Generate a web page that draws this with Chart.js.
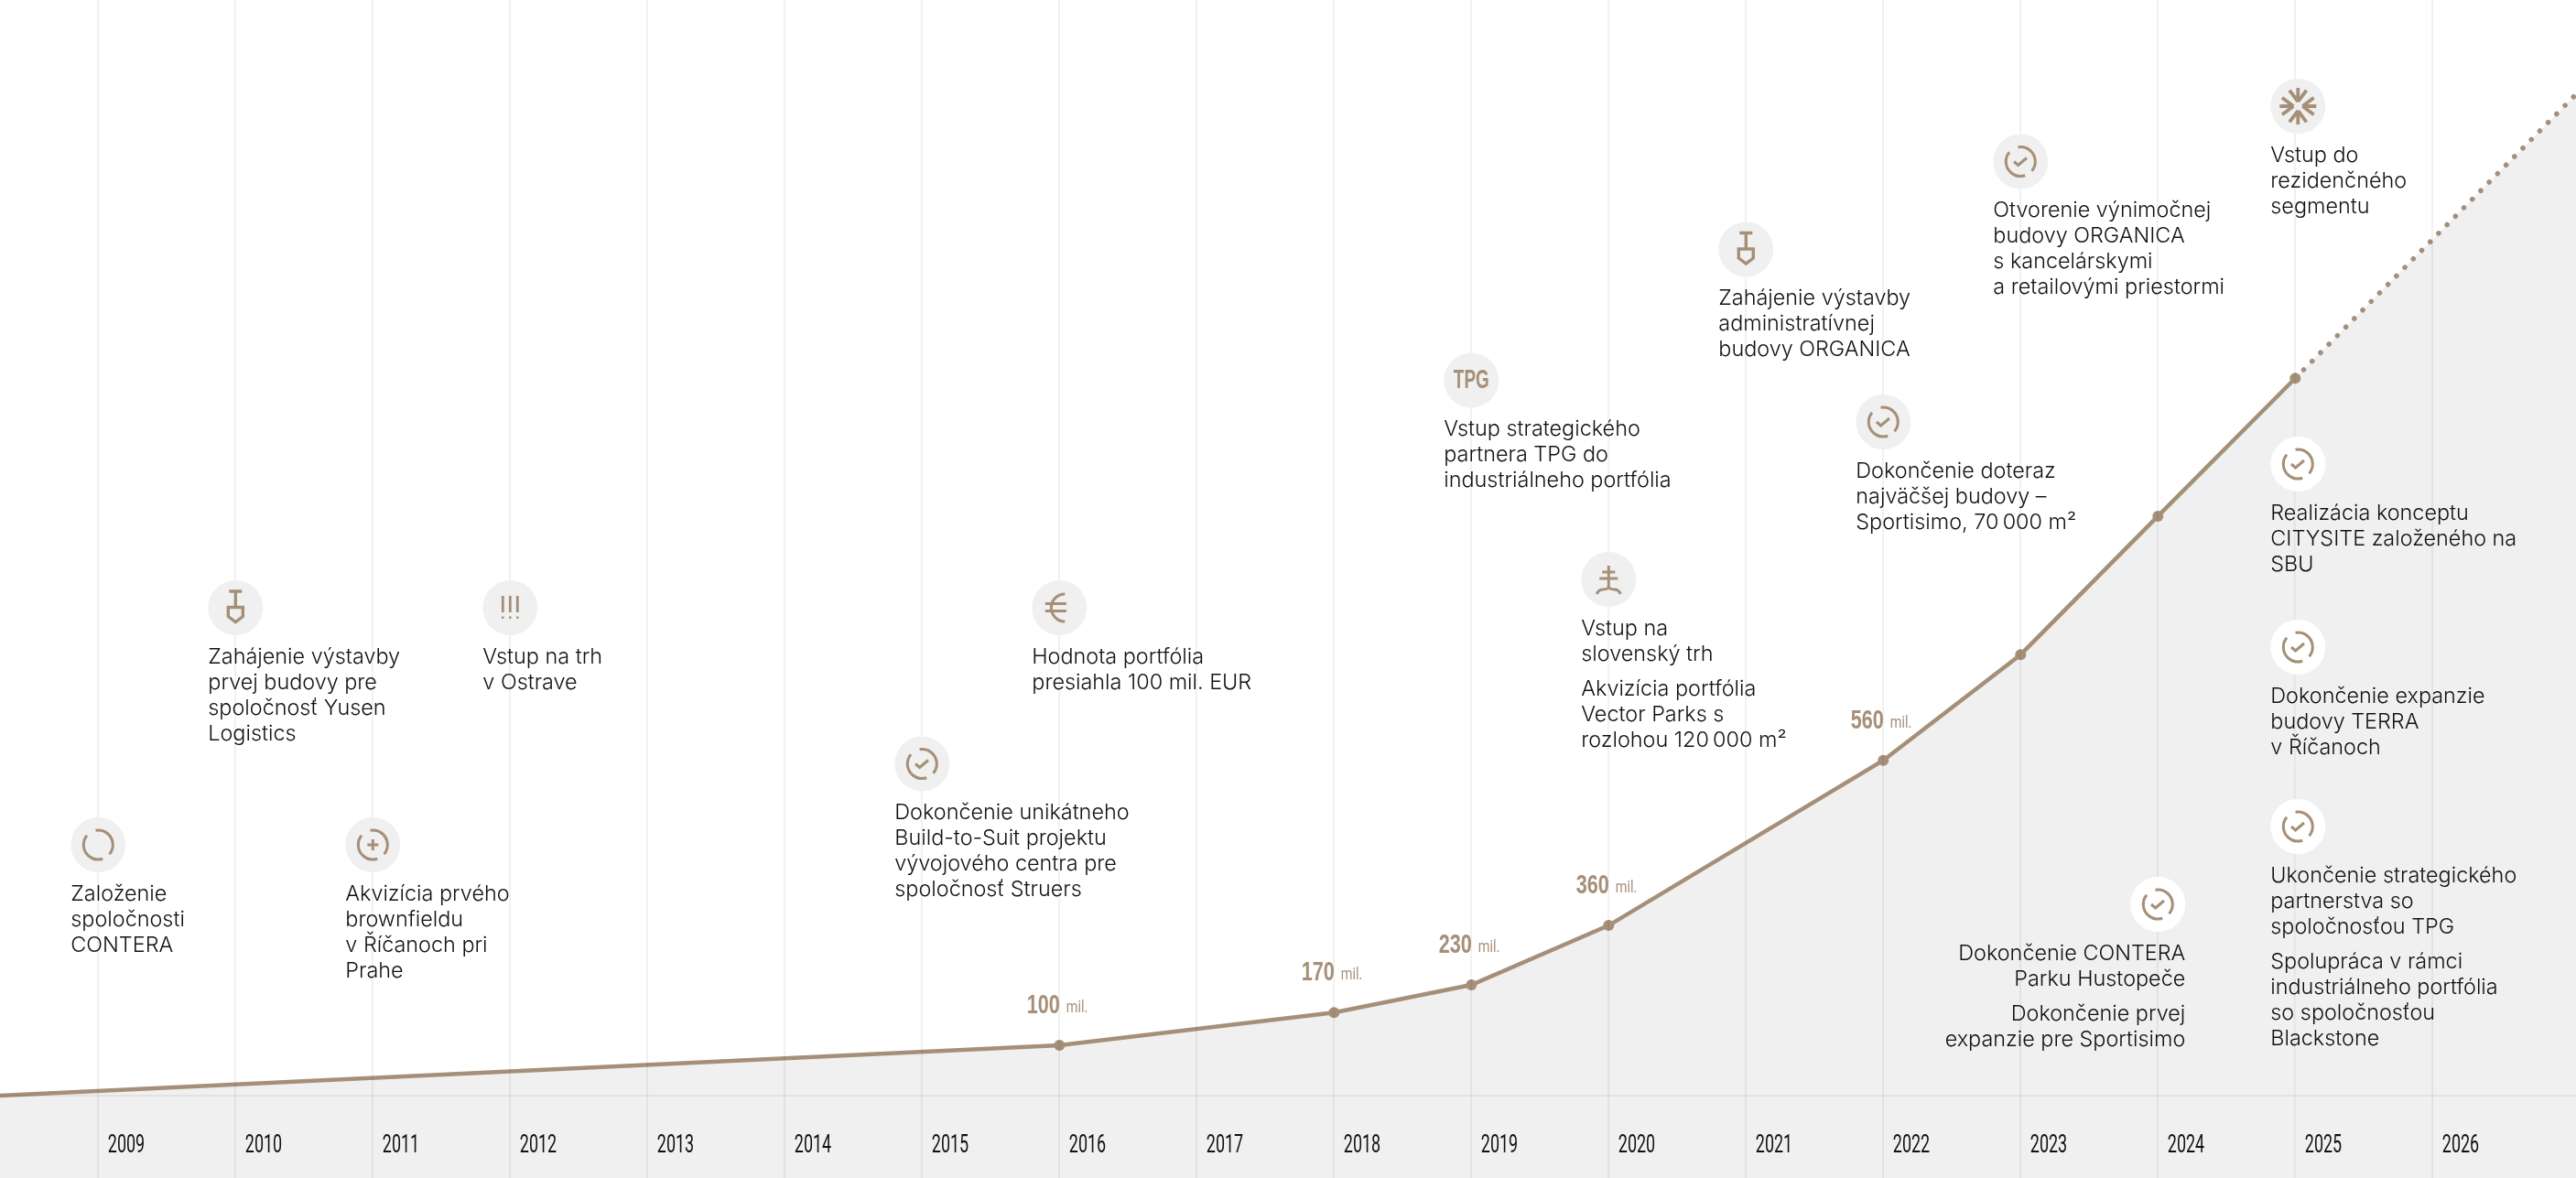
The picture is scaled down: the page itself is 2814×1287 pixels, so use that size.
<!DOCTYPE html>
<html>
<head>
<meta charset="utf-8">
<style>
  html, body { margin: 0; padding: 0; background: #fff; }
  canvas { display: block; }
</style>
<script src="https://cdn.jsdelivr.net/npm/chart.js@4"></script>
</head>
<body>
<canvas id="timeline" width="2814" height="1287"></canvas>
<script>
// curve heights are read off the picture, the drawn curve is not to scale with its labels
const curveYears = [2008.2847, 2016, 2018, 2019, 2020, 2022, 2023, 2024, 2025, 2027.0447]
const curveValues = [0, 100, 165, 220, 338, 666, 876, 1151, 1425, 1989]
const curveLabels = ['', '100', '170', '230', '360', '560', '', '', '', '']
const yearLabels = ['2009', '2010', '2011', '2012', '2013', '2014', '2015', '2016', '2017',
  '2018', '2019', '2020', '2021', '2022', '2023', '2024', '2025', '2026']

const milestoneTexts = [
  [['Založenie', 'spoločnosti', 'CONTERA']],
  [['Zahájenie výstavby', 'prvej budovy pre', 'spoločnosť Yusen', 'Logistics']],
  [['Akvizícia prvého', 'brownfieldu', 'v Říčanoch pri', 'Prahe']],
  [['Vstup na trh', 'v Ostrave']],
  [['Dokončenie unikátneho', 'Build-to-Suit projektu', 'vývojového centra pre', 'spoločnosť Struers']],
  [['Hodnota portfólia', 'presiahla 100 mil. EUR']],
  [['Vstup strategického', 'partnera TPG do', 'industriálneho portfólia']],
  [['Vstup na', 'slovenský trh'], ['Akvizícia portfólia', 'Vector Parks s', 'rozlohou 120\u2009000 m²']],
  [['Zahájenie výstavby', 'administratívnej', 'budovy ORGANICA']],
  [['Dokončenie doteraz', 'najväčšej budovy –', 'Sportisimo, 70\u2009000 m²']],
  [['Otvorenie výnimočnej', 'budovy ORGANICA', 's kancelárskymi', 'a retailovými priestormi']],
  [['Vstup do', 'rezidenčného', 'segmentu']],
  [['Realizácia konceptu', 'CITYSITE založeného na', 'SBU']],
  [['Dokončenie expanzie', 'budovy TERRA', 'v Říčanoch']],
  [['Ukončenie strategického', 'partnerstva so', 'spoločnosťou TPG'], ['Spolupráca v rámci', 'industriálneho portfólia', 'so spoločnosťou', 'Blackstone']],
  [['Dokončenie CONTERA', 'Parku Hustopeče'], ['Dokončenie prvej', 'expanzie pre Sportisimo']]
]
const milestoneIcons = ['ring', 'shovel', 'plus', 'bangs', 'check', 'euro', 'tpg', 'cross',
  'shovel', 'check', 'check', 'burst', 'check', 'check', 'check', 'check']

// layout of the milestones, same order as the texts
const milestoneYears = [2009, 2010, 2011, 2012, 2015, 2016, 2019, 2020, 2021, 2022, 2023, 2025.02, 2025.02, 2025.02, 2025.02, 2024]
const milestoneTops = [923, 664, 923, 664, 834.5, 664, 415.5, 633, 272.5, 461, 176.5, 116, 507, 707, 903, 988]

const BROWN = '#a68f78'
const GREY = '#f0f0f0'
const INK = '#111111'
const BODY_FONT = '300 23.4px Inter'
const YEAR_FONT = '400 28.5px Roboto'
const BOLD_NARROW = 'bold 30px "Liberation Sans"'

const condensedText = (ctx, text, x, y, sx) => {
  ctx.save()
  ctx.translate(x, y)
  ctx.scale(sx, 1)
  ctx.fillText(text, 0, 0)
  ctx.restore()
}

const gapRing = (ctx, r) => {
  const rad = (d) => d * Math.PI / 180
  ctx.beginPath()
  ctx.arc(0, 0, r, rad(40), rad(-100), true)
  ctx.stroke()
  ctx.beginPath()
  ctx.arc(0, 0, r, rad(220), rad(72), true)
  ctx.stroke()
}

const segs = (ctx, list) => {
  ctx.beginPath()
  list.forEach(([x1, y1, x2, y2]) => {
    ctx.moveTo(x1, y1)
    ctx.lineTo(x2, y2)
  })
  ctx.stroke()
}

const iconPainters = {
  ring: (ctx) => gapRing(ctx, 16),
  check: (ctx) => {
    gapRing(ctx, 16)
    ctx.beginPath()
    ctx.moveTo(-7.3, 0)
    ctx.lineTo(-2.7, 4)
    ctx.lineTo(6.7, -4)
    ctx.stroke()
  },
  plus: (ctx) => {
    gapRing(ctx, 16)
    segs(ctx, [[-6, 0, 6, 0], [0, -6, 0, 6]])
  },
  shovel: (ctx) => {
    ctx.lineWidth = 3.4
    segs(ctx, [[-7, -18, 7, -18], [0, -18, 0, -1]])
    ctx.beginPath()
    ctx.moveTo(-8, -0.5)
    ctx.lineTo(8, -0.5)
    ctx.lineTo(8, 9.5)
    ctx.lineTo(0, 15.5)
    ctx.lineTo(-8, 9.5)
    ctx.closePath()
    ctx.stroke()
  },
  bangs: (ctx) => {
    ctx.lineWidth = 2.8
    segs(ctx, [[-8, -13, -8, 5], [0, -13, 0, 5], [8, -13, 8, 5]])
    ctx.fillRect(-9.2, 9.5, 2.4, 2.4)
    ctx.fillRect(-1.2, 9.5, 2.4, 2.4)
    ctx.fillRect(6.8, 9.5, 2.4, 2.4)
  },
  euro: (ctx) => {
    ctx.beginPath()
    ctx.arc(6, 0, 15, -Math.PI / 2, Math.PI / 2, true)
    ctx.stroke()
    segs(ctx, [[-15.5, -4.5, 7.5, -4.5], [-15.5, 3.5, 7.5, 3.5]])
  },
  cross: (ctx) => {
    segs(ctx, [[0, -15, 0, 10], [-7, -8, 7, -8], [-10, -1, 10, -1]])
    ctx.beginPath()
    ctx.moveTo(-13, 16)
    ctx.quadraticCurveTo(-11, 11, -6, 11)
    ctx.quadraticCurveTo(-2, 11, 0, 9)
    ctx.quadraticCurveTo(2, 11, 6, 11)
    ctx.quadraticCurveTo(11, 11, 13, 16)
    ctx.stroke()
  },
  burst: (ctx) => {
    ctx.lineWidth = 3.8
    for (let i = 0; i < 4; i++) {
      ctx.save()
      ctx.rotate(i * Math.PI / 2)
      segs(ctx, [[0, -5, 0, -20], [0, -5, -9.3, -17.3], [0, -5, 9.3, -17.3]])
      ctx.restore()
    }
  },
  tpg: (ctx) => {
    ctx.font = BOLD_NARROW
    ctx.textAlign = 'center'
    ctx.textBaseline = 'middle'
    condensedText(ctx, 'TPG', 0, 0, 0.63)
  }
}

const yearLabelsPlugin = {
  id: 'yearLabels',
  afterDraw: (chart) => {
    const { ctx, scales: { x } } = chart
    ctx.save()
    ctx.fillStyle = INK
    ctx.font = YEAR_FONT
    ctx.textAlign = 'left'
    ctx.textBaseline = 'alphabetic'
    yearLabels.forEach((label) => {
      condensedText(ctx, label, x.getPixelForValue(Number(label)) + 10.5, 1259, 0.63)
    })
    ctx.restore()
  }
}

const curveLabelsPlugin = {
  id: 'curveLabels',
  afterDatasetsDraw: (chart) => {
    const { ctx } = chart
    const points = chart.getDatasetMeta(0).data
    ctx.save()
    ctx.fillStyle = BROWN
    ctx.textAlign = 'left'
    ctx.textBaseline = 'alphabetic'
    curveLabels.forEach((label, i) => {
      if (!label) return
      const { x, y } = points[i]
      ctx.font = BOLD_NARROW
      condensedText(ctx, label, x - 35.5, y - 35, 0.72)
      ctx.font = '400 19px Roboto'
      condensedText(ctx, 'mil.', x + 7.5, y - 36, 0.76)
    })
    ctx.restore()
  }
}

const milestonesPlugin = {
  id: 'milestones',
  afterDraw: (chart) => {
    const { ctx, scales: { x } } = chart
    milestoneTexts.forEach((paragraphs, i) => {
      const cx = x.getPixelForValue(milestoneYears[i])
      const cy = milestoneTops[i]
      const onArea = i >= 12
      const rightAligned = i === 15

      ctx.save()
      ctx.fillStyle = onArea ? '#fff' : GREY
      ctx.beginPath()
      ctx.arc(cx, cy, 30, 0, Math.PI * 2)
      ctx.fill()
      ctx.translate(cx, cy)
      ctx.strokeStyle = BROWN
      ctx.fillStyle = BROWN
      ctx.lineWidth = 3
      iconPainters[milestoneIcons[i]](ctx)
      ctx.restore()

      ctx.save()
      ctx.fillStyle = INK
      ctx.font = BODY_FONT
      ctx.textBaseline = 'middle'
      ctx.textAlign = rightAligned ? 'right' : 'left'
      const textX = rightAligned ? cx + 30 : cx - 30
      let y = cy + 53.5
      paragraphs.forEach((lines) => {
        lines.forEach((line) => {
          ctx.fillText(line, textX, y)
          y += 28
        })
        y += 10
      })
      ctx.restore()
    })
  }
}

const isDottedPart = (c) => c.p1DataIndex === curveYears.length - 1

new Chart(document.getElementById('timeline').getContext('2d'), {
  type: 'line',
  data: {
    datasets: [{
      data: curveYears.map((year, i) => ({ x: year, y: curveValues[i] })),
      borderColor: BROWN,
      borderWidth: 4.5,
      backgroundColor: GREY,
      fill: 'start',
      tension: 0,
      pointRadius: (c) => (c.dataIndex === 0 || c.dataIndex === curveYears.length - 1 ? 0 : 6),
      pointBackgroundColor: BROWN,
      pointBorderWidth: 0,
      segment: {
        borderDash: (c) => (isDottedPart(c) ? [0.1, 13] : undefined),
        borderCapStyle: (c) => (isDottedPart(c) ? 'round' : 'butt'),
        borderWidth: (c) => (isDottedPart(c) ? 5.5 : undefined)
      }
    }]
  },
  options: {
    responsive: false,
    devicePixelRatio: 1,
    animation: false,
    events: [],
    layout: { padding: 0 },
    plugins: { legend: { display: false }, tooltip: { enabled: false }, title: { display: false } },
    scales: {
      x: {
        type: 'linear',
        min: curveYears[0],
        max: curveYears[curveYears.length - 1],
        afterBuildTicks: (axis) => { axis.ticks = yearLabels.map((label) => ({ value: Number(label) })) },
        ticks: { display: false, autoSkip: false },
        border: { display: false },
        grid: { z: 1, color: 'rgba(0,0,0,0.055)', lineWidth: 2, drawTicks: false }
      },
      y: {
        type: 'linear',
        min: -163.64,
        max: 2176.36,
        afterBuildTicks: (axis) => { axis.ticks = [{ value: 0 }] },
        ticks: { display: false, autoSkip: false },
        border: { display: false },
        grid: { z: 1, color: 'rgba(0,0,0,0.055)', lineWidth: 2, drawTicks: false }
      }
    }
  },
  plugins: [curveLabelsPlugin, yearLabelsPlugin, milestonesPlugin]
})
</script>
</body>
</html>
